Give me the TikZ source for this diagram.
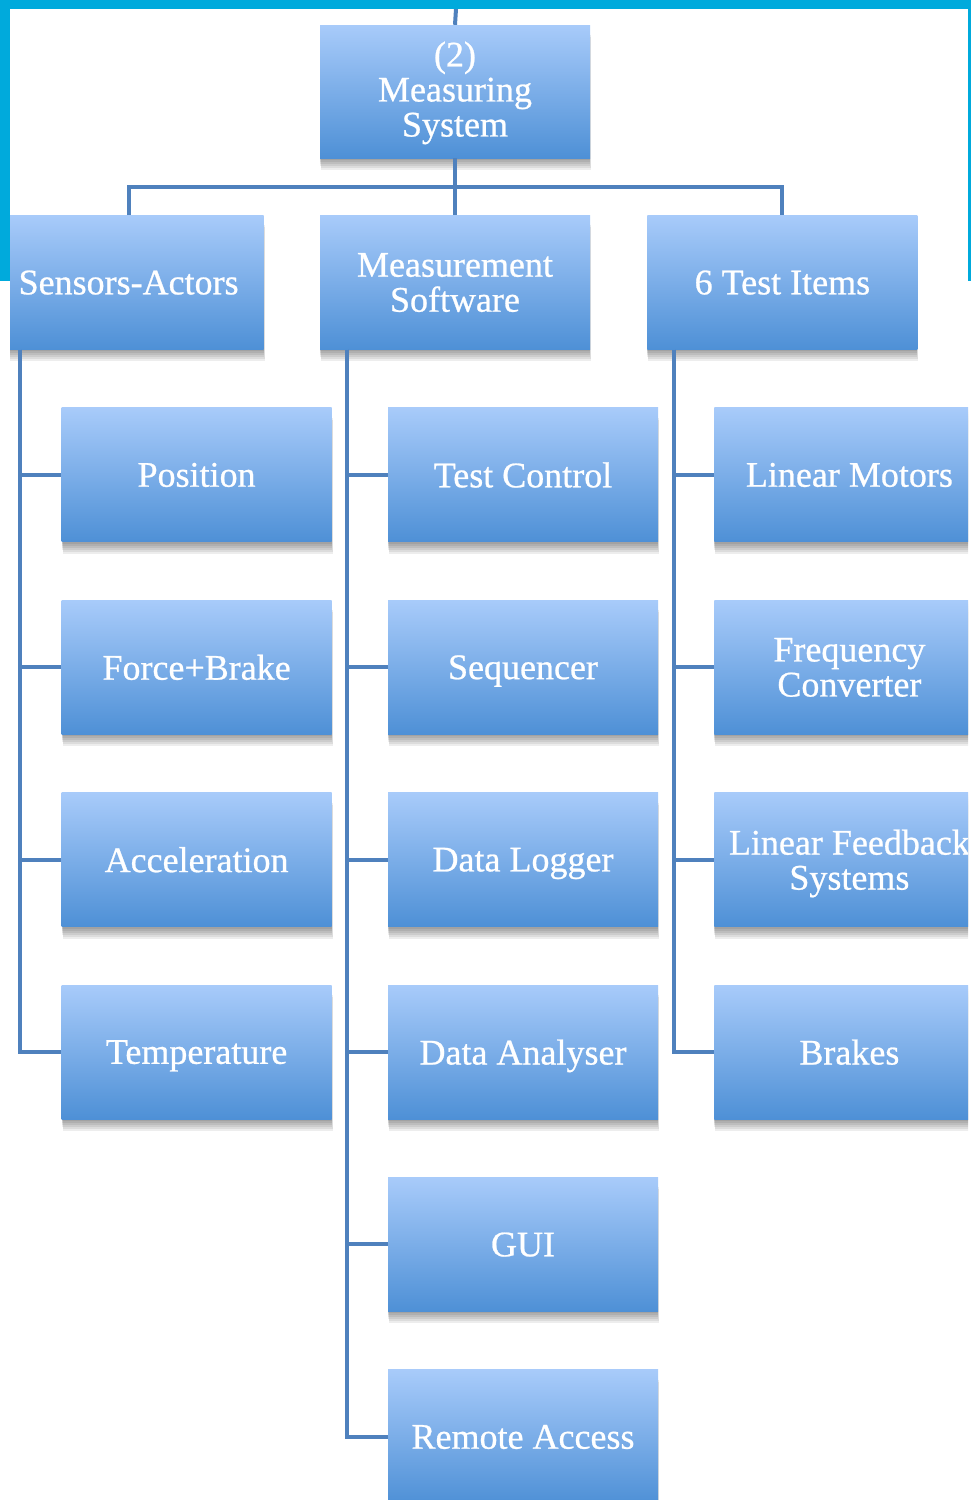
\documentclass[tikz,border=0pt]{standalone}
\usepackage{fontspec}
\setmainfont{Liberation Serif}
\newfontfamily\boxfont{Liberation Serif}[FakeBold=0.7]
\usetikzlibrary{positioning}
\usetikzlibrary{shadows}
\definecolor{framecyan}{RGB}{0,170,220}
\definecolor{boxtop}{RGB}{168,203,250}
\definecolor{boxbot}{RGB}{78,144,214}
\definecolor{linkblue}{RGB}{79,129,189}
\tikzset{
softshadow/.style={
  general shadow={fill=black, opacity=.07, shadow yshift=-12pt, shadow xshift=1pt},
  general shadow={fill=black, opacity=.07, shadow yshift=-10pt, shadow xshift=1pt},
  general shadow={fill=black, opacity=.07, shadow yshift=-8pt},
  general shadow={fill=black, opacity=.07, shadow yshift=-6pt},
  general shadow={fill=black, opacity=.07, shadow yshift=-4pt},
  general shadow={fill=black, opacity=.07, shadow yshift=-2pt}},
blockbox/.style={
  rectangle, top color=boxtop, bottom color=boxbot,
  minimum width=270pt, minimum height=134pt, inner sep=2pt,
  align=center, text=white, text depth=0pt,
  font=\boxfont\fontsize{36}{35}\selectfont,
  softshadow},
link/.style={draw=linkblue, line width=4pt}
}

\begin{document}
\begin{tikzpicture}[x=1pt,y=-1pt]
\useasboundingbox (0,0) rectangle (971,1500);
\fill[white] (0,0) rectangle (971,1500);
\fill[framecyan] (0,0) rectangle (971,281);
\fill[white] (10,9) rectangle (968,1500);

\begin{scope}
\clip (10,9) rectangle (968,1500);
\coordinate (frametop) at (456,9);

\node[blockbox, minimum height=133pt, text depth=5pt](root) at (455,91.5) {(2)\\Measuring\\System};

\node[blockbox, below=57pt of root](msw){Measurement\\Software};
\node[blockbox, left=56pt of msw](sens){Sensors-Actors};
\node[blockbox, right=57pt of msw](items){6 Test Items};

\node[blockbox, below=58pt of sens, xshift=68pt](pos){Position};
\node[blockbox, below=58pt of pos](force){Force+Brake};
\node[blockbox, below=58pt of force](acc){Acceleration};
\node[blockbox, below=58pt of acc](temp){Temperature};

\node[blockbox, below=58pt of msw, xshift=68pt](tctl){Test Control};
\node[blockbox, below=58pt of tctl](seq){Sequencer};
\node[blockbox, below=58pt of seq](dlog){Data Logger};
\node[blockbox, below=58pt of dlog](dana){Data Analyser};
\node[blockbox, below=58pt of dana](gui){GUI};
\node[blockbox, below=58pt of gui](remote){Remote Access};

\node[blockbox, below=58pt of items, xshift=67pt](lmot){Linear Motors};
\node[blockbox, below=58pt of lmot](fconv){Frequency\\Converter};
\node[blockbox, below=58pt of fconv](lfb){Linear Feedback\\Systems};
\node[blockbox, below=58pt of lfb](brk){Brakes};

\coordinate (bus) at ([yshift=-29pt]root.south);
\draw[link] (frametop) -- (root.north);
\draw[link] (root.south) -- (msw.north);
\draw[link] (sens.north) |- (bus) -| (items.north);

\foreach \kid in {pos,force,acc,temp}
  \draw[link] ([xshift=27pt]sens.south west) |- (\kid.west);
\foreach \kid in {tctl,seq,dlog,dana,gui,remote}
  \draw[link] ([xshift=27.5pt]msw.south west) |- (\kid.west);
\foreach \kid in {lmot,fconv,lfb,brk}
  \draw[link] ([xshift=27pt]items.south west) |- (\kid.west);
\end{scope}
\end{tikzpicture}
\end{document}
